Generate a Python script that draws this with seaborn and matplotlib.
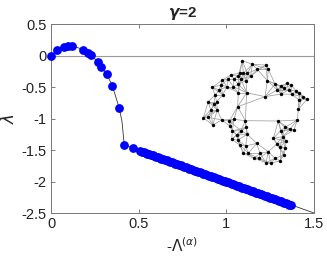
import numpy as np
import pandas as pd
import matplotlib
matplotlib.use("Agg")
import matplotlib.pyplot as plt
import seaborn as sns

# ---- data ----
lam_x_sparse = [0.0, 0.036, 0.076, 0.095, 0.118, 0.18, 0.213, 0.23, 0.268, 0.285,
                0.317, 0.35, 0.39, 0.418, 0.47]
lam_y_sparse = [0.0, 0.09, 0.13, 0.15, 0.15, 0.095, 0.04, 0.005, -0.105, -0.175,
                -0.29, -0.48, -0.84, -1.42, -1.47]

lam_x_dense = [0.51, 0.52, 0.53, 0.54, 0.55, 0.56, 0.57, 0.58, 0.59, 0.60,
               0.61, 0.62, 0.63, 0.64, 0.65, 0.66, 0.67, 0.68, 0.69, 0.70,
               0.71, 0.72, 0.73, 0.74, 0.75, 0.76, 0.77, 0.78, 0.79, 0.80,
               0.81, 0.82, 0.83, 0.84, 0.85, 0.86, 0.87, 0.88, 0.89, 0.90,
               0.91, 0.92, 0.93, 0.94, 0.95, 0.96, 0.97, 0.98, 0.99, 1.00,
               1.01, 1.02, 1.03, 1.04, 1.05, 1.06, 1.07, 1.08, 1.09, 1.10,
               1.11, 1.12, 1.13, 1.14, 1.15, 1.16, 1.17, 1.18, 1.19, 1.20,
               1.21, 1.22, 1.23, 1.24, 1.25, 1.26, 1.27, 1.28, 1.29, 1.30,
               1.31, 1.32, 1.33, 1.34, 1.35, 1.36, 1.367]
lam_y_dense = [-1.515, -1.525, -1.535, -1.545, -1.555, -1.565, -1.575, -1.585, -1.595, -1.605,
               -1.615, -1.625, -1.635, -1.645, -1.655, -1.665, -1.675, -1.685, -1.695, -1.705,
               -1.715, -1.725, -1.735, -1.745, -1.755, -1.765, -1.775, -1.785, -1.795, -1.805,
               -1.815, -1.825, -1.835, -1.845, -1.855, -1.865, -1.875, -1.885, -1.895, -1.905,
               -1.915, -1.925, -1.935, -1.945, -1.955, -1.965, -1.975, -1.985, -1.995, -2.005,
               -2.015, -2.025, -2.035, -2.045, -2.055, -2.065, -2.075, -2.085, -2.095, -2.105,
               -2.115, -2.125, -2.135, -2.145, -2.155, -2.165, -2.175, -2.185, -2.195, -2.205,
               -2.215, -2.225, -2.235, -2.245, -2.255, -2.265, -2.275, -2.285, -2.295, -2.305,
               -2.315, -2.325, -2.335, -2.345, -2.355, -2.365, -2.37]

curve_x = [0.0, 0.036, 0.076, 0.1, 0.118, 0.15, 0.18, 0.213, 0.23, 0.268, 0.285, 0.317,
           0.35, 0.39, 0.405, 0.412, 0.418, 0.47, 0.51, 1.0, 1.5]
curve_y = [0.0, 0.09, 0.13, 0.15, 0.15, 0.13, 0.095, 0.04, 0.005, -0.105, -0.175, -0.29,
           -0.48, -0.84, -1.05, -1.25, -1.42, -1.47, -1.515, -2.0, -2.5]

# network inset node positions (arbitrary picture units)
node_x = [247, 277, 318, 292, 325, 240, 250, 262, 213, 235, 272, 205, 187, 243, 222, 258,
          183, 200, 220, 235, 260, 235, 322, 345, 362, 380, 393, 372, 352, 386, 408, 418,
          428, 441, 418, 395, 363, 415, 412, 355, 315, 157, 165, 178, 188, 145, 163, 170,
          152, 172, 145, 130, 158, 185, 208, 222, 233, 256, 210, 217, 230, 243, 258, 262,
          215, 233, 240, 257, 250, 265, 282, 300, 298, 318, 332, 345, 360, 372, 375, 360,
          378, 368, 362, 375, 390, 402, 340, 350, 325, 290]
node_y = [62, 73, 75, 88, 88, 98, 100, 100, 105, 108, 108, 118, 120, 118, 118, 122,
          135, 140, 140, 133, 158, 158, 122, 132, 138, 130, 135, 145, 150, 150, 152, 160,
          170, 178, 180, 163, 162, 208, 240, 243, 170, 142, 165, 150, 165, 185, 193, 185,
          210, 210, 232, 233, 255, 240, 243, 238, 200, 242, 258, 273, 285, 272, 262, 283,
          298, 300, 315, 318, 340, 340, 355, 340, 355, 368, 370, 355, 362, 345, 325, 322,
          303, 290, 272, 262, 268, 270, 295, 312, 335, 310]
long_edges = [(56, 40), (57, 39), (40, 36), (56, 57), (20, 57), (15, 20), (39, 38),
              (56, 21), (57, 62), (39, 82), (40, 22), (3, 22), (37, 33), (38, 84)]

# ---- figure ----
sns.set_theme(style="white")
plt.rcParams["font.family"] = ["Liberation Sans", "DejaVu Sans"]
plt.rcParams["mathtext.fontset"] = "dejavusans"

fig = plt.figure(figsize=(3.27, 2.62), dpi=100)
ax = fig.add_axes([0.156, 0.187, 0.804, 0.721])

ax.axhline(0, color="#9a9a9a", lw=0.8, zorder=1)
curve = pd.DataFrame({"x": curve_x, "y": curve_y})
sns.lineplot(data=curve, x="x", y="y", sort=False, estimator=None, color="#333333",
             lw=0.6, ax=ax, zorder=2)
pts = pd.DataFrame({"x": lam_x_sparse + lam_x_dense, "y": lam_y_sparse + lam_y_dense})
sns.scatterplot(data=pts, x="x", y="y", color=(0, 0, 1), s=40, linewidth=0,
                ax=ax, zorder=3, clip_on=False)

ax.set_xlim(0, 1.5)
ax.set_ylim(-2.5, 0.5)
ax.set_xticks([0, 0.5, 1, 1.5])
ax.set_xticklabels(["0", "0.5", "1", "1.5"])
ax.set_yticks([0.5, 0, -0.5, -1, -1.5, -2, -2.5])
ax.set_yticklabels(["0.5", "0", "-0.5", "-1", "-1.5", "-2", "-2.5"])
ax.tick_params(direction="in", length=3, width=0.6, color="#666666",
               labelsize=10.5, labelcolor="#222222", top=True, right=True,
               bottom=True, left=True, pad=3)
for s in ax.spines.values():
    s.set_color("#777777")
    s.set_linewidth(0.7)

ax.set_xlabel(r"-$\Lambda^{(\alpha)}$", fontsize=11, color="#222222", labelpad=4)
ax.set_ylabel(r"$\lambda$", fontsize=12, color="#222222", labelpad=3)
ax.set_title(r"$\boldsymbol{\gamma}$=2", fontsize=11, fontweight="bold", pad=5)

# network inset
ins = fig.add_axes([0.6167, 0.3702, 0.3272, 0.4046])
ins.set_axis_off()
nx = np.array(node_x, float)
ny = np.array(node_y, float)
n = len(nx)
edges = set()
for i in range(n):
    d = np.hypot(nx - nx[i], ny - ny[i])
    for j in np.argsort(d)[1:6]:
        edges.add((min(i, j), max(i, j)))
for i, j in long_edges:
    edges.add((min(i, j), max(i, j)))
for i, j in sorted(edges):
    ins.plot([nx[i], nx[j]], [ny[i], ny[j]], color="#a0a0a0", lw=0.55, zorder=1)
sns.scatterplot(x=nx, y=ny, color="black", s=6, linewidth=0, ax=ins, zorder=2)
ins.set_xlim(125, 446)
ins.set_ylim(375, 57)
ins.patch.set_alpha(0)

fig.savefig("out.png", dpi=100)
